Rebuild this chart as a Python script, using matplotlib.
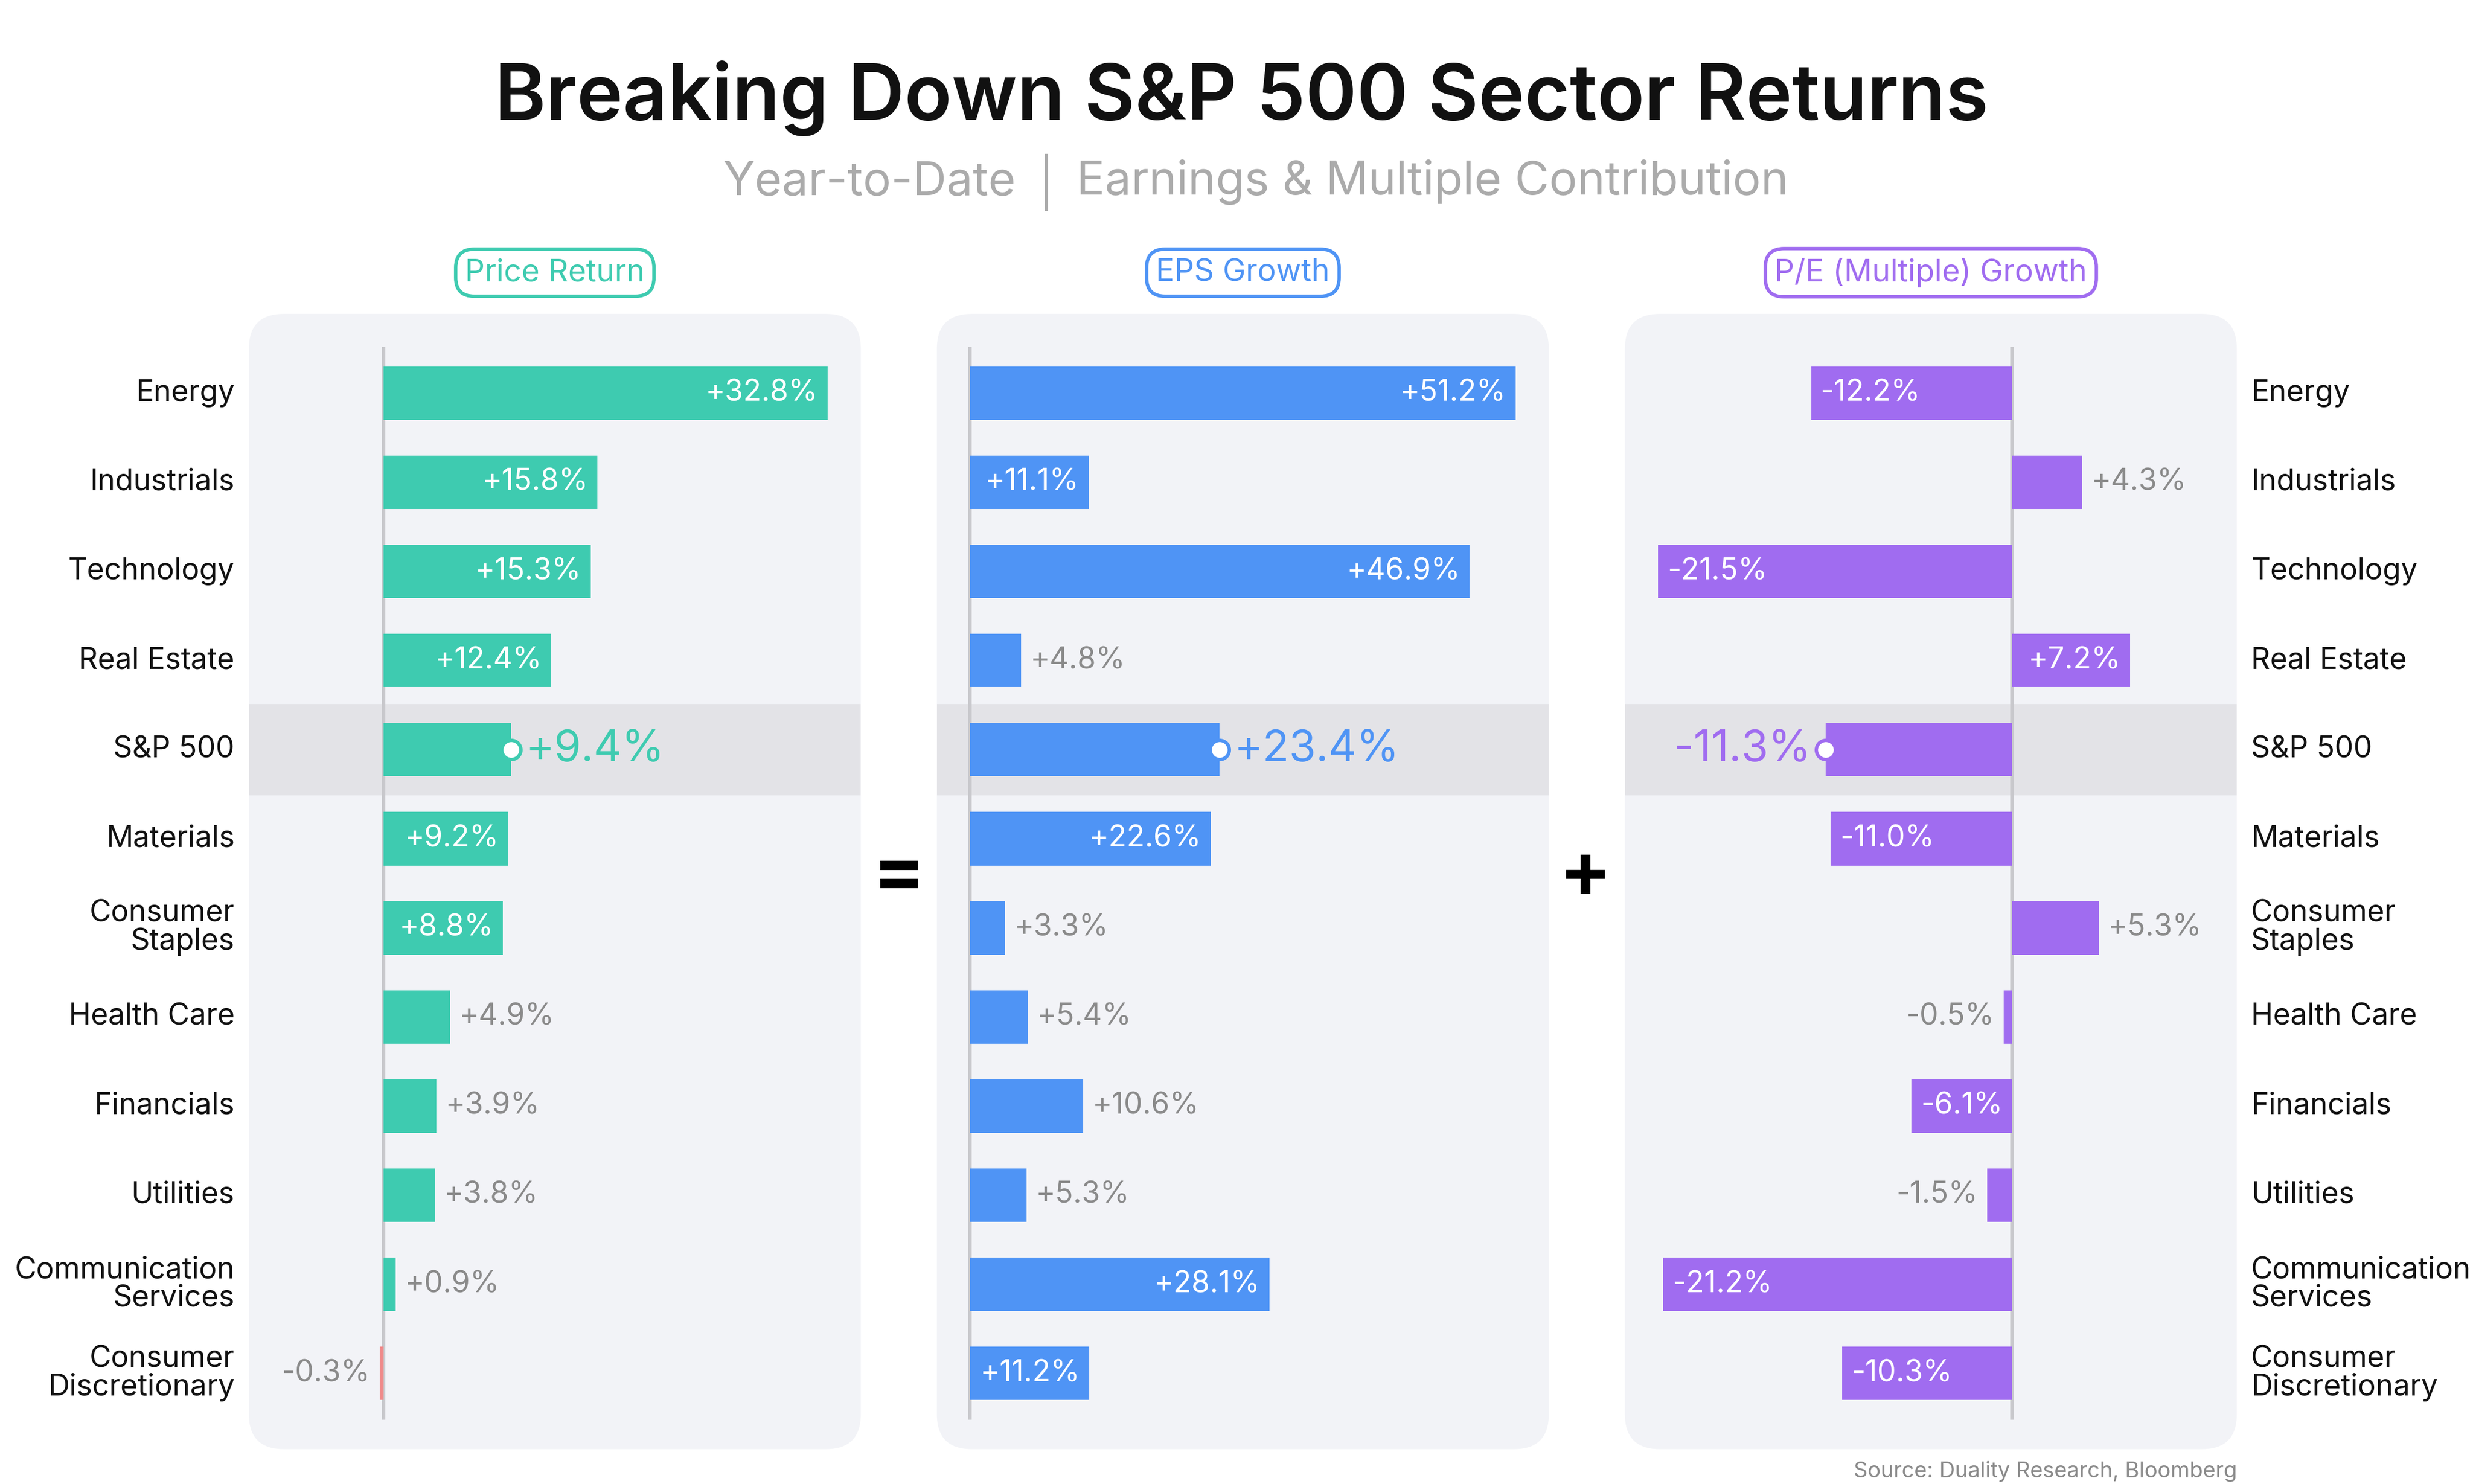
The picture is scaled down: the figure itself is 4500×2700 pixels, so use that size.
import matplotlib.pyplot as plt
from matplotlib.patches import FancyBboxPatch

plt.rcParams['font.family'] = ['Inter', 'DejaVu Sans']

sectors = ["Energy", "Industrials", "Technology", "Real Estate", "S&P 500", "Materials",
           "Consumer\nStaples", "Health Care", "Financials", "Utilities",
           "Communication\nServices", "Consumer\nDiscretionary"]
price_return = [32.8, 15.8, 15.3, 12.4, 9.4, 9.2, 8.8, 4.9, 3.9, 3.8, 0.9, -0.3]
eps_growth = [51.2, 11.1, 46.9, 4.8, 23.4, 22.6, 3.3, 5.4, 10.6, 5.3, 28.1, 11.2]
pe_growth = [-12.2, 4.3, -21.5, 7.2, -11.3, -11.0, 5.3, -0.5, -6.1, -1.5, -21.2, -10.3]
panel_titles = ["Price Return", "EPS Growth", "P/E (Multiple) Growth"]
highlight = 4

TEAL, BLUE, PURPLE = "#3ecbb0", "#4f94f5", "#a06cf0"
PANEL_BG, HILITE, GRAY = "#f2f3f7", "#e3e3e7", "#8a8a8a"

fig = plt.figure(figsize=(15, 9), dpi=300)
# full-figure pixel canvas (1560 x 936 display units)
bg = fig.add_axes([0, 0, 1, 1])
bg.set_xlim(0, 1560)
bg.set_ylim(936, 0)
bg.axis("off")
W, H = 1560, 936

def fx(px):
    return px / W

def fy(py):
    return 1 - py / H

bg.text(783, 62, "Breaking Down S&P 500 Sector Returns", ha="center", va="center",
        fontsize=34, fontweight="semibold", color="#111111")
bg.text(641, 115, "Year-to-Date", ha="right", va="center", fontsize=20.5, color="#ababab")
bg.plot([660, 660], [98, 132], color="#ababab", lw=1.5)
bg.text(679, 115, "Earnings & Multiple Contribution", ha="left", va="center",
        fontsize=20.5, color="#ababab")
bg.text(1411, 928, "Source: Duality Research, Bloomberg", ha="right", va="center",
        fontsize=9.5, color=GRAY)
bg.text(567, 553, "=", ha="center", va="center", fontsize=34, fontweight="bold")
bg.text(1000, 553, "+", ha="center", va="center", fontsize=34, fontweight="bold")

panels = [
    dict(x0=157, values=price_return, color=TEAL, zero=242, scale=280 / 32.8,
         inside=[1, 1, 1, 1, 0, 1, 1, 0, 0, 0, 0, 0], title_x=350),
    dict(x0=591, values=eps_growth, color=BLUE, zero=612, scale=344 / 51.2,
         inside=[1, 1, 1, 0, 0, 1, 0, 0, 0, 0, 1, 1], title_x=784),
    dict(x0=1025, values=pe_growth, color=PURPLE, zero=1269, scale=223 / 21.5,
         inside=[1, 0, 1, 1, 0, 1, 0, 0, 1, 0, 1, 1], title_x=1218),
]
pw, top, bot = 386, 198, 914
row0, step = 248, 56.2

for p in panels:
    bg.add_patch(FancyBboxPatch((p["x0"], top), pw, bot - top,
                                boxstyle="round,pad=0,rounding_size=22",
                                fc=PANEL_BG, ec="none", zorder=0))
    ax = fig.add_axes([fx(p["x0"]), fy(bot), fx(pw), (bot - top) / H])
    ax.patch.set_visible(False)
    xl = (p["x0"] - p["zero"]) / p["scale"]
    xr = (p["x0"] + pw - p["zero"]) / p["scale"]
    ax.set_xlim(xl, xr)
    ax.set_ylim((bot - row0) / step, (top - row0) / step)
    ax.axis("off")
    ax.axhspan(highlight - 0.5, highlight + 0.5, color=HILITE, zorder=0)
    ax.plot([0, 0], [-0.5, 11.5], color="#c8c8cc", lw=1.5, zorder=1)
    pad = (xr - xl) * 0.015
    for i, v in enumerate(p["values"]):
        c = p["color"] if v >= 0 else ("#f08a8a" if p is panels[0] else p["color"])
        ax.barh(i, v, height=0.6, color=c, zorder=2)
        s = f"{v:+.1f}%"
        side = "left" if v >= 0 else "right"
        if i == highlight:
            ax.scatter([v], [i], s=70, color="white", edgecolor=p["color"], lw=1.5, zorder=4)
            off = pad * 1.6 if v >= 0 else -pad * 1.6
            ax.text(v + off, i, s, ha=side, va="center", fontsize=19, color=p["color"])
        elif p["inside"][i]:
            off = -pad if v >= 0 else pad
            ax.text(v + off, i, s, ha="right" if v >= 0 else "left", va="center",
                    fontsize=13, color="white", zorder=3)
        else:
            off = pad if v >= 0 else -pad
            ax.text(v + off, i, s, ha=side, va="center", fontsize=13, color=GRAY)

for p, t in zip(panels, panel_titles):
    bg.text(p["title_x"], 172, t, ha="center", va="center", fontsize=13.5, color=p["color"],
            bbox=dict(boxstyle="round,pad=0.3,rounding_size=0.6", fc="white",
                      ec=p["color"], lw=1.5))

for i, s in enumerate(sectors):
    y = row0 + i * step
    bg.text(148, y, s, ha="right", va="center", fontsize=13, color="#111111", linespacing=1.0)
    bg.text(1420, y, s, ha="left", va="center", fontsize=13, color="#111111", linespacing=1.0)

fig.savefig("out.png", dpi=300, facecolor="white")
